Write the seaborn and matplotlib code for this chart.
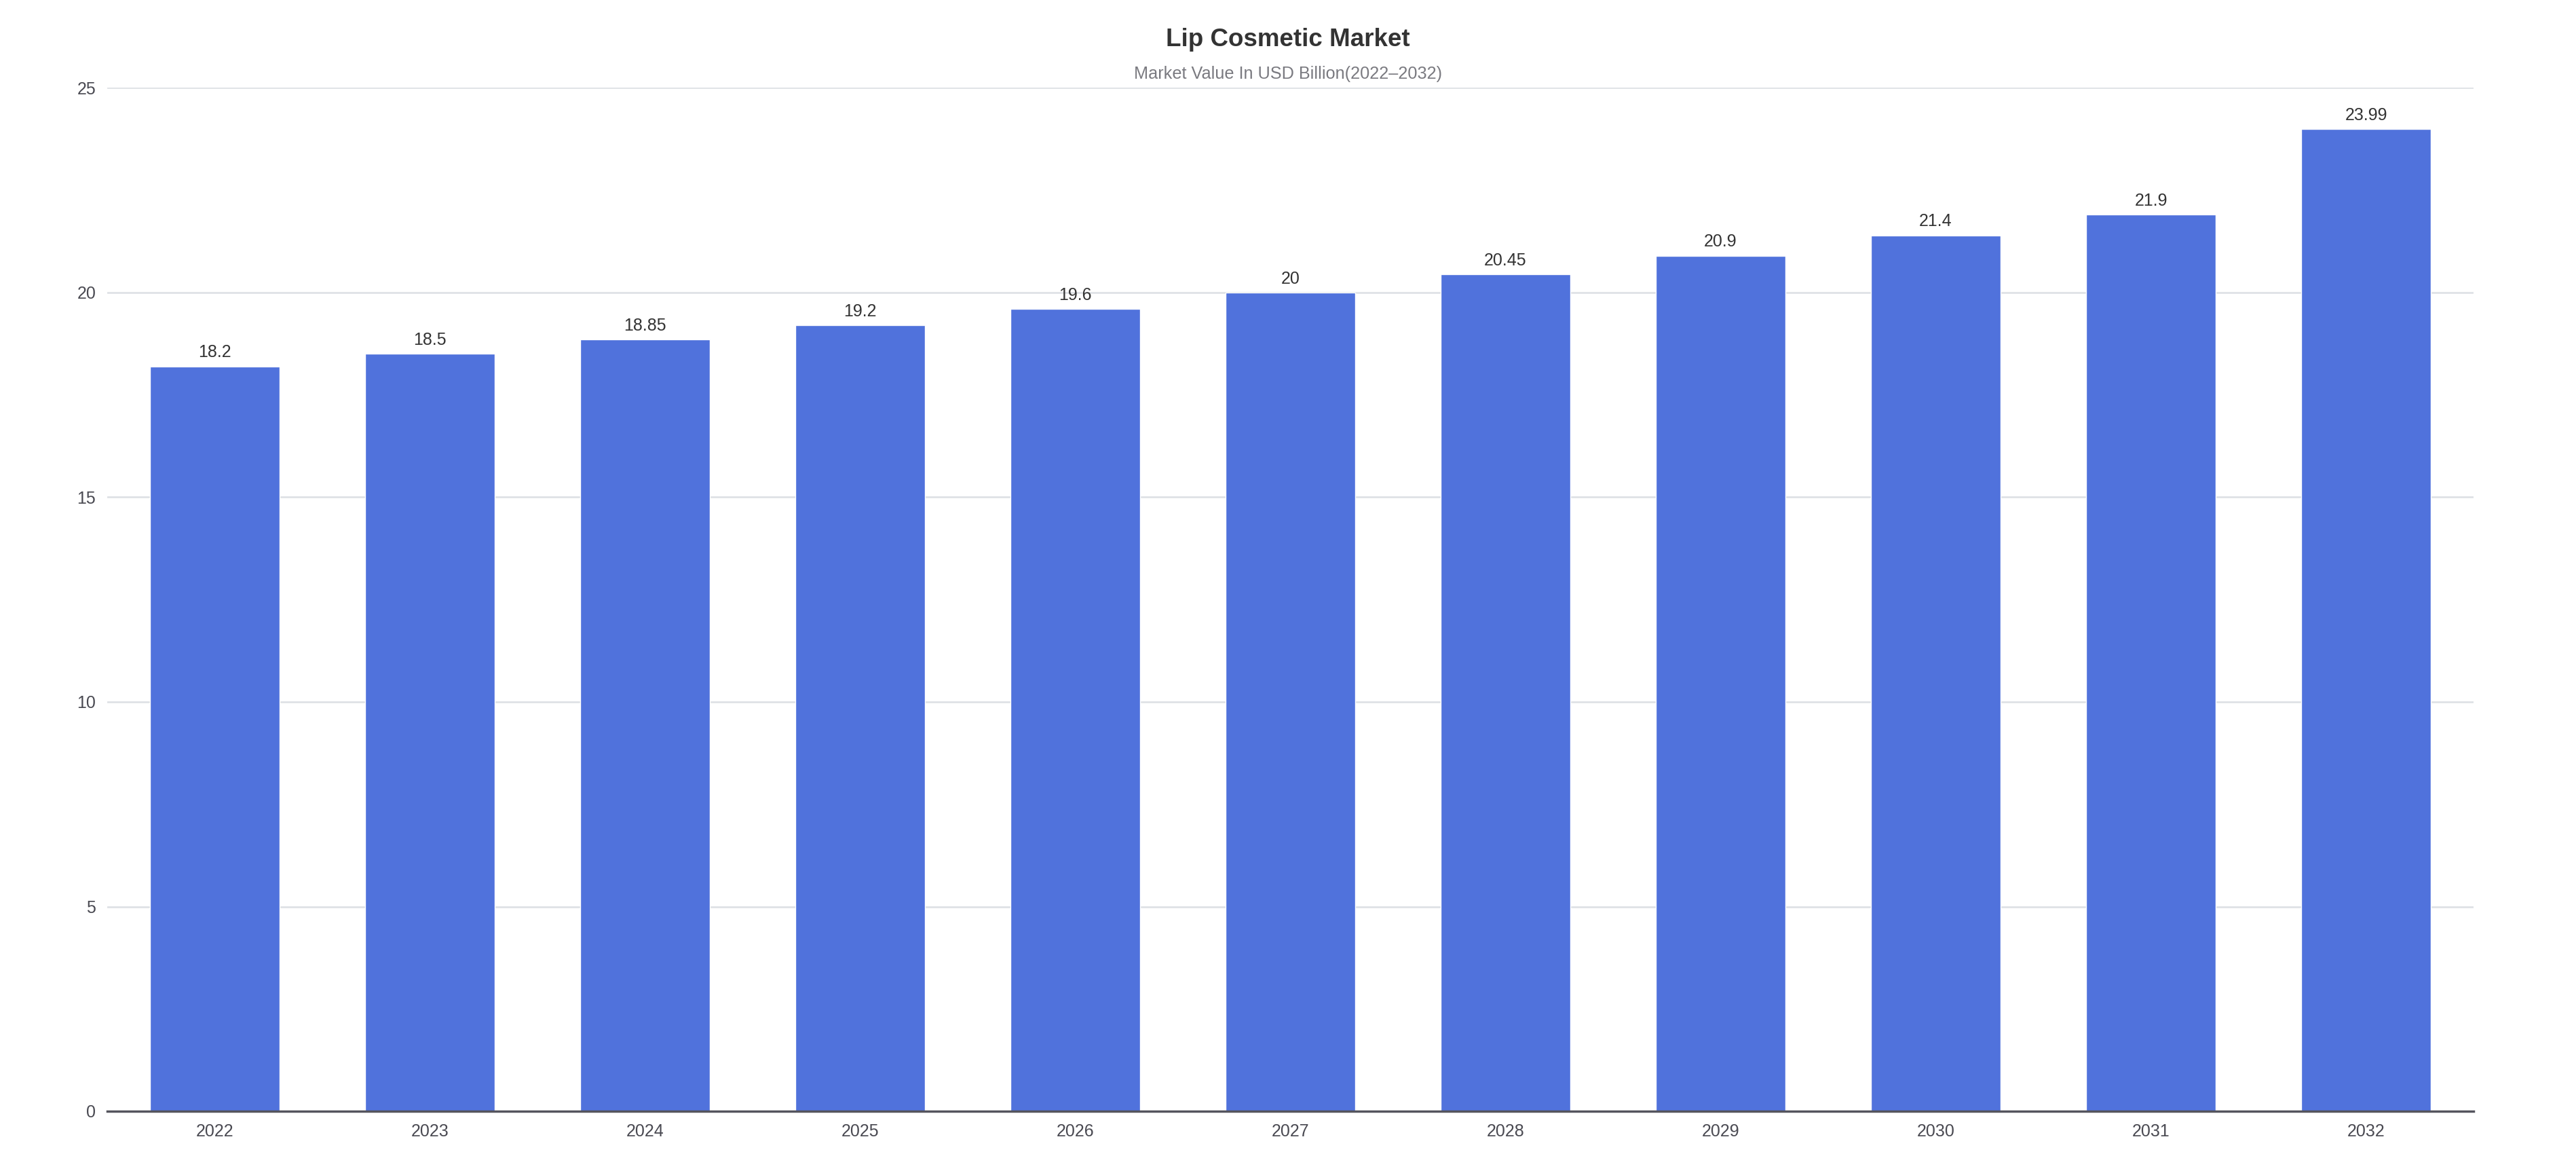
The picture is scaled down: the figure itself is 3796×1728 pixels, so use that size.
import matplotlib
matplotlib.use("Agg")
import matplotlib.pyplot as plt
import seaborn as sns
import pandas as pd

years = ["2022", "2023", "2024", "2025", "2026", "2027", "2028", "2029", "2030", "2031", "2032"]
values = [18.2, 18.5, 18.85, 19.2, 19.6, 20, 20.45, 20.9, 21.4, 21.9, 23.99]
y_ticks = [0, 5, 10, 15, 20, 25]
title = "Lip Cosmetic Market"
subtitle = "Market Value In USD Billion(2022\u20132032)"

sns.set_theme(style="white")
plt.rcParams['font.family'] = ['Liberation Sans', 'DejaVu Sans']

df = pd.DataFrame({"year": years, "value": values})

fig = plt.figure(figsize=(37.96, 17.28), dpi=100)
ax = fig.add_axes([158/3796, 1 - 1637/1728, (3645-158)/3796, (1637-129.5)/1728])

sns.barplot(data=df, x="year", y="value", color="#5072DC", saturation=1,
            width=0.6, ax=ax, zorder=3)

ax.set_ylim(0, 25)
ax.set_xlim(-0.5, len(years) - 0.5)
ax.set_yticks(y_ticks)
ax.set_yticklabels([str(t) for t in y_ticks])
ax.set_xlabel("")
ax.set_ylabel("")

ax.yaxis.grid(True, color="#dfe2e6", linewidth=2, zorder=0)
ax.xaxis.grid(False)
for s in ["top", "right", "left"]:
    ax.spines[s].set_visible(False)
ax.spines["bottom"].set_color("#55555e")
ax.spines["bottom"].set_linewidth(2.5)
ax.spines["bottom"].set_zorder(4)

ax.tick_params(axis="x", length=0, pad=13, labelsize=18, labelcolor="#4a4a52")
ax.tick_params(axis="y", length=0, pad=12, labelsize=18, labelcolor="#4a4a52")

labels = ["%g" % v for v in values]
ax.bar_label(ax.containers[0], labels=labels, padding=6, fontsize=18, color="#333333")

fig.text(0.5, 1 - 58/1728, title, ha="center", va="center", fontsize=26.5,
         fontweight="bold", color="#333333")
fig.text(0.5, 1 - 109/1728, subtitle, ha="center", va="center", fontsize=18.2,
         color="#7a7a80")

fig.savefig("out.png", dpi=100, facecolor="white")
